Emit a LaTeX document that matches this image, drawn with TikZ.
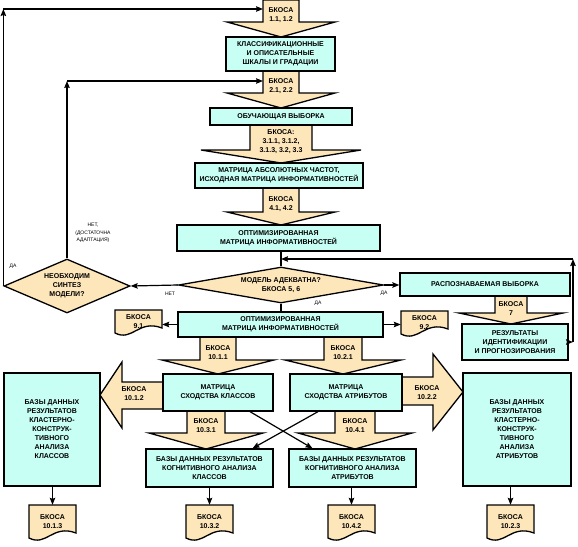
\documentclass[tikz,border=0pt]{standalone}
\usepackage{fontspec}
\setmainfont{Liberation Sans}
\usepackage{xcolor}
\usepackage{tikz}
\usetikzlibrary{arrows.meta,positioning,shapes.geometric,backgrounds}

\definecolor{cyanbox}{RGB}{200,255,245}
\definecolor{tanbox}{RGB}{253,230,186}

\newcommand\blkdown[8]{%
  \filldraw[blk] ({#2-#6},#3) -- ({#2+#6},#3) -- ({#2+#6},#4) -- ({#2+#7},#4) -- (#2,#5) -- ({#2-#7},#4) -- ({#2-#6},#4) -- cycle;
  \node[lbl] (#1) at (#2,{(#3+#4)/2+4}) {#8};}
\newcommand\docu[5]{%
  \node[docbox,minimum height={#4-#3}] (#1) at (#2,{(#3+#4)/2}) {#5};
  \begin{scope}[on background layer]
  \filldraw[blk] ({#2-23.5},#3) -- ({#2+23.5},#3) -- ({#2+23.5},{#4-5}) .. controls (#2,{#4-14}) and ({#2-6},{#4+9}) .. ({#2-23.5},#4) -- cycle;
  \end{scope}}

\begin{document}
\begin{tikzpicture}[x=1pt,y=-1pt,
box/.style={draw,line width=1.3pt,fill=cyanbox,align=center,inner sep=1pt,font=\bfseries\fontsize{7}{9}\selectfont},
dia/.style={diamond,draw,line width=1.3pt,fill=tanbox,align=center,inner sep=0pt,font=\bfseries\fontsize{7}{9}\selectfont},
blk/.style={draw,line width=1.3pt,fill=tanbox},
lbl/.style={align=center,inner sep=0pt,font=\bfseries\fontsize{7}{9}\selectfont},
docbox/.style={align=center,inner sep=0pt,minimum width=47,font=\bfseries\fontsize{7}{9}\selectfont},
note/.style={align=center,inner sep=0pt,font=\fontsize{5}{7.5}\selectfont},
arr/.style={-{Stealth[length=7pt,width=5.5pt,inset=1pt]},line width=1.2pt}]
\useasboundingbox (0,0) rectangle (578,546);

\blkdown{a1}{281}{0}{22}{37}{18}{54}{БКОСА\\1.1, 1.2}
\blkdown{a2}{281}{71}{93}{108}{18}{54}{БКОСА\\2.1, 2.2}
\blkdown{a3}{281}{125}{150}{163}{31}{80}{БКОСА:\\3.1.1, 3.1.2,\\3.1.3, 3.2, 3.3}
\blkdown{a4}{281}{188}{212}{225}{18}{54}{БКОСА\\4.1, 4.2}
\blkdown{a7}{511}{296}{313}{324}{16}{52}{БКОСА\\7}
\blkdown{a11}{218}{337}{360}{374}{18}{56}{БКОСА\\10.1.1}
\blkdown{a21}{343}{337}{360}{374}{19}{58}{БКОСА\\10.2.1}
\blkdown{a31}{206}{411}{433}{449}{19}{57}{БКОСА\\10.3.1}
\blkdown{a41}{355}{411}{433}{449}{20}{57}{БКОСА\\10.4.1}
\filldraw[blk] (163,382) -- (122,382) -- (122,362) -- (100,395) -- (122,428) -- (122,409) -- (163,409) -- cycle;
\node[lbl] (a12) at (134,394) {БКОСА\\10.1.2};
\filldraw[blk] (402,377) -- (433,377) -- (433,354) -- (463,392) -- (433,430) -- (433,405) -- (402,405) -- cycle;
\node[lbl] (a22) at (427,393) {БКОСА\\10.2.2};

\node[box,minimum width=109,minimum height=34] (klass) at (280.5,54) {КЛАССИФИКАЦИОННЫЕ\\И ОПИСАТЕЛЬНЫЕ\\ШКАЛЫ И ГРАДАЦИИ};
\node[box,minimum width=142,minimum height=17] (obuch) at (281,116.5) {ОБУЧАЮЩАЯ ВЫБОРКА};
\node[box,minimum width=168,minimum height=25] (matabs) at (279,175.5) {МАТРИЦА АБСОЛЮТНЫХ ЧАСТОТ,\\ИСХОДНАЯ МАТРИЦА ИНФОРМАТИВНОСТЕЙ};
\node[box,minimum width=203,minimum height=26] (opt1) at (278.5,238) {ОПТИМИЗИРОВАННАЯ\\МАТРИЦА ИНФОРМАТИВНОСТЕЙ};
\node[dia,minimum width=205,minimum height=36,aspect=5.7] (adek) at (281,285) {МОДЕЛЬ АДЕКВАТНА?\\БКОСА 5, 6};
\node[dia,minimum width=126,minimum height=54,aspect=2.33] (sint) at (67,286) {НЕОБХОДИМ\\СИНТЕЗ\\МОДЕЛИ?};
\node[box,minimum width=170,minimum height=23] (raspoz) at (485,284.5) {РАСПОЗНАВАЕМАЯ ВЫБОРКА};
\node[box,minimum width=205,minimum height=25] (opt2) at (280.5,324.5) {ОПТИМИЗИРОВАННАЯ\\МАТРИЦА ИНФОРМАТИВНОСТЕЙ};
\node[box,minimum width=106,minimum height=36] (rez) at (515,342) {РЕЗУЛЬТАТЫ\\ИДЕНТИФИКАЦИИ\\И ПРОГНОЗИРОВАНИЯ};
\node[box,minimum width=110,minimum height=37] (msk) at (218,392.5) {МАТРИЦА\\СХОДСТВА КЛАССОВ};
\node[box,minimum width=112,minimum height=37] (msa) at (346,392.5) {МАТРИЦА\\СХОДСТВА АТРИБУТОВ};
\node[box,minimum width=96,minimum height=113] (bdl) at (52,429.5) {БАЗЫ ДАННЫХ\\РЕЗУЛЬТАТОВ\\КЛАСТЕРНО-\\КОНСТРУК-\\ТИВНОГО\\АНАЛИЗА\\КЛАССОВ};
\node[box,minimum width=108,minimum height=113] (bdr) at (517,429.5) {БАЗЫ ДАННЫХ\\РЕЗУЛЬТАТОВ\\КЛАСТЕРНО-\\КОНСТРУК-\\ТИВНОГО\\АНАЛИЗА\\АТРИБУТОВ};
\node[box,minimum width=127,minimum height=38] (kogk) at (209.5,468) {БАЗЫ ДАННЫХ РЕЗУЛЬТАТОВ\\КОГНИТИВНОГО АНАЛИЗА\\КЛАССОВ};
\node[box,minimum width=127,minimum height=38] (koga) at (352.5,468) {БАЗЫ ДАННЫХ РЕЗУЛЬТАТОВ\\КОГНИТИВНОГО АНАЛИЗА\\АТРИБУТОВ};

\docu{d91}{138.5}{310}{333}{БКОСА\\9.1}
\docu{d92}{424.5}{311}{334}{БКОСА\\9.2}
\docu{d113}{52.5}{505}{538}{БКОСА\\10.1.3}
\docu{d132}{209.5}{505}{538}{БКОСА\\10.3.2}
\docu{d142}{351.5}{505}{538}{БКОСА\\10.4.2}
\docu{d123}{510.5}{505}{538}{БКОСА\\10.2.3}

\node[note] (da1) at (13,266) {ДА};
\node[note] (net1) at (93,233) {НЕТ,\\(ДОСТАТОЧНА\\АДАПТАЦИЯ)};
\node[note] (net2) at (170,294) {НЕТ};
\node[note] (da2) at (384,293) {ДА};
\node[note] (da3) at (318,303) {ДА};

\coordinate (in1) at (263,9);
\coordinate (in2) at (263,81);
\coordinate (fb) at (573,259);
\draw[arr] (sint.west) -- (sint.west |- in1);
\draw[arr] (sint.west |- in1) -- (in1);
\draw[arr] (sint.north) -- (sint.north |- in2);
\draw[arr] (sint.north |- in2) -- (in2);
\draw[line width=1.2pt] (adek.north |- opt1.south) -- (adek.north);
\draw[arr] (adek.west) -- (sint.east);
\draw[arr] (adek.east) -- (adek.east -| raspoz.west);
\draw[line width=1.2pt] (adek.south) -- (adek.south |- opt2.north);
\draw[arr] (opt2.west) -- (opt2.west -| d91.east);
\draw[arr] (opt2.east) -- (opt2.east -| d92.west);
\draw[arr] (rez.east) -- (rez.east -| fb);
\draw[arr] (rez.east -| fb) -- (fb);
\draw[arr] (fb) -- (adek.north |- fb);
\draw[arr] ([xshift=32pt]msk.south) -- ([xshift=-40pt]koga.north);
\draw[arr] ([xshift=-28pt]msa.south) -- ([xshift=43pt]kogk.north);
\draw[arr] (bdl.south -| d113.north) -- (d113.north);
\draw[arr] (kogk.south -| d132.north) -- (d132.north);
\draw[arr] (koga.south -| d142.north) -- (d142.north);
\draw[arr] (bdr.south -| d123.north) -- (d123.north);
\end{tikzpicture}
\end{document}
